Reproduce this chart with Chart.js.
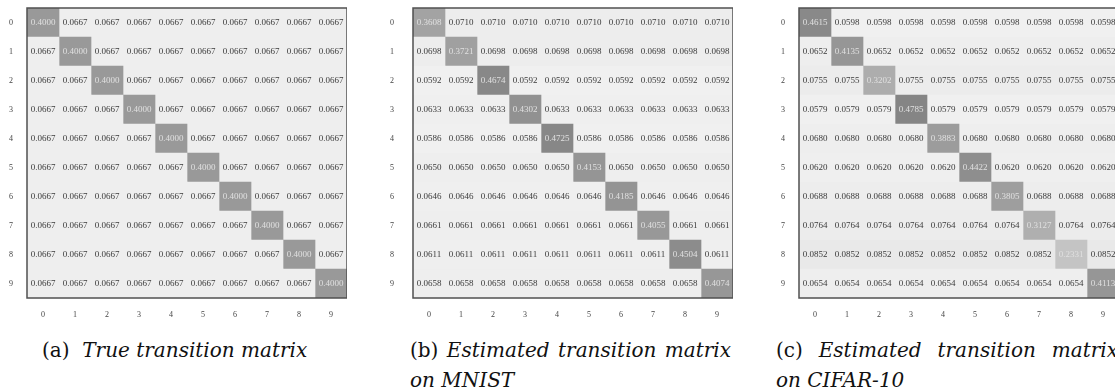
<!DOCTYPE html>
<html>
<head>
<meta charset="utf-8">
<script src="https://cdn.jsdelivr.net/npm/chart.js@4.4.0/dist/chart.umd.min.js"></script>
<style>
  html, body { margin: 0; padding: 0; background: #fff; }
  body { width: 1115px; height: 390px; position: relative; overflow: hidden; }
  .panel { position: absolute; top: 0; width: 347px; height: 330px; }
  .cap { position: absolute; font-family: "DejaVu Serif", serif; font-size: 20px; color: #111; line-height: 30px; white-space: nowrap; }
  .cap i { font-style: italic; }
  .just { text-align: justify; text-align-last: justify; white-space: normal; }
</style>
</head>
<body>
<div class="panel" style="left:0px"><canvas id="chart-a"></canvas></div>
<div class="panel" style="left:386px"><canvas id="chart-b"></canvas></div>
<div class="panel" style="left:772px"><canvas id="chart-c"></canvas></div>

<div class="cap" style="left:42px; top:335px;">(a)&nbsp; <i>True transition matrix</i></div>
<div class="cap just" style="left:410px; top:335px; width:321px;">(b) <i>Estimated transition matrix</i></div>
<div class="cap" style="left:410px; top:365px;"><i>on MNIST</i></div>
<div class="cap just" style="left:776px; top:335px; width:342px;">(c) <i>Estimated transition matrix</i></div>
<div class="cap" style="left:776px; top:365px;"><i>on CIFAR-10</i></div>

<script>
const classLabels = ['0', '1', '2', '3', '4', '5', '6', '7', '8', '9'];

const trueMatrix = [
    [0.4000, 0.0667, 0.0667, 0.0667, 0.0667, 0.0667, 0.0667, 0.0667, 0.0667, 0.0667],
    [0.0667, 0.4000, 0.0667, 0.0667, 0.0667, 0.0667, 0.0667, 0.0667, 0.0667, 0.0667],
    [0.0667, 0.0667, 0.4000, 0.0667, 0.0667, 0.0667, 0.0667, 0.0667, 0.0667, 0.0667],
    [0.0667, 0.0667, 0.0667, 0.4000, 0.0667, 0.0667, 0.0667, 0.0667, 0.0667, 0.0667],
    [0.0667, 0.0667, 0.0667, 0.0667, 0.4000, 0.0667, 0.0667, 0.0667, 0.0667, 0.0667],
    [0.0667, 0.0667, 0.0667, 0.0667, 0.0667, 0.4000, 0.0667, 0.0667, 0.0667, 0.0667],
    [0.0667, 0.0667, 0.0667, 0.0667, 0.0667, 0.0667, 0.4000, 0.0667, 0.0667, 0.0667],
    [0.0667, 0.0667, 0.0667, 0.0667, 0.0667, 0.0667, 0.0667, 0.4000, 0.0667, 0.0667],
    [0.0667, 0.0667, 0.0667, 0.0667, 0.0667, 0.0667, 0.0667, 0.0667, 0.4000, 0.0667],
    [0.0667, 0.0667, 0.0667, 0.0667, 0.0667, 0.0667, 0.0667, 0.0667, 0.0667, 0.4000]
];

const mnistMatrix = [
    [0.3608, 0.0710, 0.0710, 0.0710, 0.0710, 0.0710, 0.0710, 0.0710, 0.0710, 0.0710],
    [0.0698, 0.3721, 0.0698, 0.0698, 0.0698, 0.0698, 0.0698, 0.0698, 0.0698, 0.0698],
    [0.0592, 0.0592, 0.4674, 0.0592, 0.0592, 0.0592, 0.0592, 0.0592, 0.0592, 0.0592],
    [0.0633, 0.0633, 0.0633, 0.4302, 0.0633, 0.0633, 0.0633, 0.0633, 0.0633, 0.0633],
    [0.0586, 0.0586, 0.0586, 0.0586, 0.4725, 0.0586, 0.0586, 0.0586, 0.0586, 0.0586],
    [0.0650, 0.0650, 0.0650, 0.0650, 0.0650, 0.4153, 0.0650, 0.0650, 0.0650, 0.0650],
    [0.0646, 0.0646, 0.0646, 0.0646, 0.0646, 0.0646, 0.4185, 0.0646, 0.0646, 0.0646],
    [0.0661, 0.0661, 0.0661, 0.0661, 0.0661, 0.0661, 0.0661, 0.4055, 0.0661, 0.0661],
    [0.0611, 0.0611, 0.0611, 0.0611, 0.0611, 0.0611, 0.0611, 0.0611, 0.4504, 0.0611],
    [0.0658, 0.0658, 0.0658, 0.0658, 0.0658, 0.0658, 0.0658, 0.0658, 0.0658, 0.4074]
];

const cifarMatrix = [
    [0.4615, 0.0598, 0.0598, 0.0598, 0.0598, 0.0598, 0.0598, 0.0598, 0.0598, 0.0598],
    [0.0652, 0.4135, 0.0652, 0.0652, 0.0652, 0.0652, 0.0652, 0.0652, 0.0652, 0.0652],
    [0.0755, 0.0755, 0.3202, 0.0755, 0.0755, 0.0755, 0.0755, 0.0755, 0.0755, 0.0755],
    [0.0579, 0.0579, 0.0579, 0.4785, 0.0579, 0.0579, 0.0579, 0.0579, 0.0579, 0.0579],
    [0.0680, 0.0680, 0.0680, 0.0680, 0.3883, 0.0680, 0.0680, 0.0680, 0.0680, 0.0680],
    [0.0620, 0.0620, 0.0620, 0.0620, 0.0620, 0.4422, 0.0620, 0.0620, 0.0620, 0.0620],
    [0.0688, 0.0688, 0.0688, 0.0688, 0.0688, 0.0688, 0.3805, 0.0688, 0.0688, 0.0688],
    [0.0764, 0.0764, 0.0764, 0.0764, 0.0764, 0.0764, 0.0764, 0.3127, 0.0764, 0.0764],
    [0.0852, 0.0852, 0.0852, 0.0852, 0.0852, 0.0852, 0.0852, 0.0852, 0.2331, 0.0852],
    [0.0654, 0.0654, 0.0654, 0.0654, 0.0654, 0.0654, 0.0654, 0.0654, 0.0654, 0.4113]
];

// grey level: darker for larger probability
function cellColor(v) {
    let g = Math.round(255 * (1 - v));
    return 'rgb(' + g + ',' + g + ',' + g + ')';
}

// write the values into the cells and draw the frame
const cellText = {
    id: 'cellText',
    afterDatasetsDraw(chart) {
        const ctx = chart.ctx;
        const matrix = chart.options.plugins.cellText.matrix;
        ctx.save();
        ctx.font = '9px "Liberation Serif", serif';
        ctx.textAlign = 'center';
        ctx.textBaseline = 'middle';
        chart.data.datasets.forEach((ds, j) => {
            chart.getDatasetMeta(j).data.forEach((bar, i) => {
                let v = matrix[i][j];
                ctx.fillStyle = v > 0.2 ? '#e0e0e0' : '#3a3a3a';
                ctx.fillText(v.toFixed(4), (bar.x + bar.base) / 2, bar.y + 0.5);
            });
        });
        const a = chart.chartArea;
        ctx.strokeStyle = '#505050';
        ctx.lineWidth = 1.5;
        ctx.strokeRect(a.left, a.top, a.right - a.left, a.bottom - a.top);
        ctx.restore();
    }
};

function makeHeatmap(id, matrix, tickPad) {
    const datasets = classLabels.map((c, j) => ({
        label: c,
        data: classLabels.map(() => [j, j + 1]),
        backgroundColor: (ctx) => cellColor(matrix[ctx.dataIndex][j]),
        borderWidth: 0,
        barPercentage: 1,
        categoryPercentage: 1,
        grouped: false
    }));

    new Chart(document.getElementById(id).getContext('2d'), {
        type: 'bar',
        data: { labels: classLabels, datasets: datasets },
        options: {
            indexAxis: 'y',
            responsive: true,
            maintainAspectRatio: false,
            animation: false,
            layout: { padding: { top: 8, right: 0, left: 0, bottom: 0 } },
            plugins: {
                legend: { display: false },
                tooltip: { enabled: false },
                cellText: { matrix: matrix }
            },
            scales: {
                x: {
                    type: 'linear',
                    min: 0,
                    max: 10,
                    afterBuildTicks: (axis) => {
                        axis.ticks = classLabels.map((c, j) => ({ value: j + 0.5 }));
                    },
                    afterFit: (axis) => {
                        axis.height = 32;
                        axis.paddingLeft = 0;
                        axis.paddingRight = 0;
                    },
                    grid: { display: false, drawTicks: false },
                    border: { display: false },
                    ticks: {
                        padding: 12,
                        color: '#444',
                        font: { family: '"Liberation Serif", serif', size: 8 },
                        callback: (v) => classLabels[Math.floor(v)]
                    }
                },
                y: {
                    afterFit: (axis) => {
                        axis.width = 27;
                        axis.paddingTop = 0;
                        axis.paddingBottom = 0;
                    },
                    grid: { display: false, drawTicks: false },
                    border: { display: false },
                    ticks: {
                        padding: tickPad,
                        color: '#444',
                        font: { family: '"Liberation Serif", serif', size: 8 }
                    }
                }
            }
        },
        plugins: [cellText]
    });
}

makeHeatmap('chart-a', trueMatrix, 14);
makeHeatmap('chart-b', mnistMatrix, 19);
makeHeatmap('chart-c', cifarMatrix, 14);
</script>
</body>
</html>
